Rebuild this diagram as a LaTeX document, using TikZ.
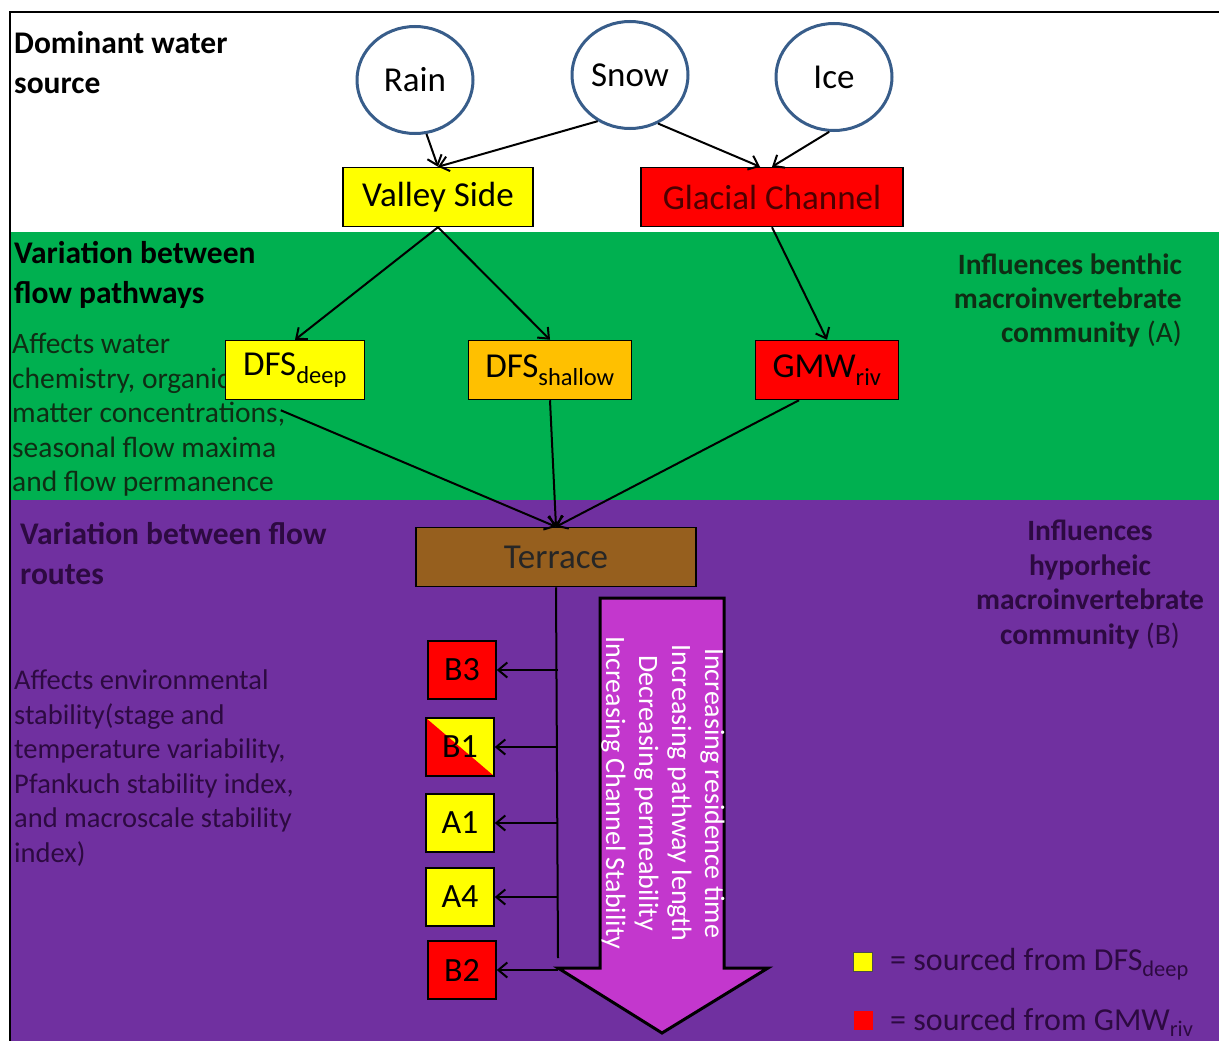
\documentclass[tikz,border=0pt]{standalone}
\usepackage{fontspec}
\setmainfont{Carlito}
\usepackage{tikz}
\usetikzlibrary{arrows.meta,shapes.geometric}

\definecolor{bandgreen}{RGB}{0,176,80}
\definecolor{bandpurple}{RGB}{112,48,160}
\definecolor{boxyellow}{RGB}{255,255,0}
\definecolor{boxorange}{RGB}{255,192,0}
\definecolor{boxred}{RGB}{255,0,0}
\definecolor{terracebrown}{RGB}{150,95,30}
\definecolor{arrowpink}{RGB}{195,55,205}
\definecolor{ringblue}{RGB}{56,93,138}
\definecolor{greentext}{RGB}{15,45,20}
\definecolor{purpletext}{RGB}{45,10,65}

\newcommand{\fsz}[2]{\fontsize{#1}{#2}\selectfont}

\begin{document}
\begin{tikzpicture}[x=1pt, y=-1pt,
  source/.style={draw=ringblue, line width=3, ellipse, minimum width=116, minimum height=107, inner sep=0, font=\fsz{35}{40}},
  unit/.style={draw, line width=1.5, inner sep=0, minimum height=59, font=\fsz{35}{40}},
  site/.style={draw, line width=1.5, inner sep=0, minimum width=68, minimum height=58, font=\fsz{34}{40}},
  flow/.style={->, line width=2, >={Straight Barb[length=9pt,width=15pt]}},
  heading/.style={anchor=north west, align=left, inner sep=0, font=\bfseries\fsz{31.5}{40}},
  note/.style={anchor=north west, align=left, inner sep=0, font=\fsz{29.5}{34.5}}]

\useasboundingbox (0,0) rectangle (1219,1041);

% background bands
\fill[white] (0,0) rectangle (1219,1041);
\fill[bandgreen] (10,232) rectangle (1219,500);
\fill[bandpurple] (10,500) rectangle (1219,1041);
\draw[line width=2] (10,1041) -- (10,12) -- (1219,12);

% side texts

\node[heading] (srchead) at (14,31) {Dominant water\\source};
\node[heading] (pathhead) at (14,241) {Variation between\\flow pathways};
\node[note, text=greentext] (pathnote) at (12,333) {Affects water\\chemistry, organic\\matter concentrations,\\seasonal flow maxima\\and flow permanence};
\node[heading, text=purpletext] (routehead) at (20,522) {Variation between flow\\routes};
\node[note, text=purpletext, font=\fsz{28.5}{34.5}] (routenote) at (14,670) {Affects environmental\\stability(stage and\\temperature variability,\\Pfankuch stability index,\\and macroscale stability\\index)};

\node[anchor=north east, align=right, inner sep=0, text=greentext, font=\bfseries\fsz{29.5}{34}] (benthic) at (1182,254) {Influences benthic\\macroinvertebrate\\community \mdseries(A)};
\node[anchor=north, align=center, inner sep=0, text=purpletext, font=\bfseries\fsz{29.5}{34.5}] (hyporheic) at (1090,520) {Influences\\hyporheic\\macroinvertebrate\\community \mdseries(B)};

% water sources

\node[source] (rain) at (415,80) {Rain};
\node[source] (snow) at (630,75) {Snow};
\node[source] (ice) at (834,77) {Ice};

% landscape units

\node[unit, fill=boxyellow, minimum width=190] (valley) at (438,197) {Valley Side};
\node[unit, fill=boxred, text=red!30!black, minimum width=262] (glacial) at (772,197) {Glacial Channel};

% flow pathways

\node[unit, fill=boxyellow, minimum width=139] (dfsdeep) at (295,370) {DFS\textsubscript{deep}};
\node[unit, fill=boxorange, minimum width=163] (dfsshallow) at (550,370) {DFS\textsubscript{shallow}};
\node[unit, fill=boxred, minimum width=143] (gmwriv) at (827,370) {GMW\textsubscript{riv}};

\node[unit, fill=terracebrown, text=black!85, minimum width=280] (terrace) at (556,557) {Terrace};

% trend arrow
\draw[line width=3, fill=arrowpink] (600,598) -- (724,598) -- (724,968) -- (768,968) -- (662,1033) -- (558,968) -- (600,968) -- cycle;
\node[rotate=-90, align=center, inner sep=0, text=white, font=\fsz{28}{33}] (trend) at (663,793) {Increasing residence time\\Increasing pathway length\\Decreasing permeability\\Increasing Channel Stability};

% flow routes

\node[site, fill=boxred] (b3) at (462,670) {B3};
\node[site, fill=boxyellow, path picture={\fill[boxred] (path picture bounding box.north west) -- (path picture bounding box.south east) -- (path picture bounding box.south west) -- cycle;}] (b1) at (460,747) {B1};
\node[site, fill=boxyellow] (a1) at (460,823) {A1};
\node[site, fill=boxyellow] (a4) at (460,897) {A4};
\node[site, fill=boxred] (b2) at (462,970) {B2};

\coordinate (trunkend) at (558,958);

% legend

\node[draw=black!70, fill=boxyellow, minimum size=19, inner sep=0] (keydeep) at (863,962) {};
\node[fill=boxred, minimum size=19, inner sep=0] (keyriv) at (863,1020) {};
\node[anchor=base west, inner sep=0, text=purpletext, font=\fsz{32}{36}] (keydeeptext) at (890,970) {= sourced from DFS\textsubscript{deep}};
\node[anchor=base west, inner sep=0, text=purpletext, font=\fsz{32}{36}] (keyrivtext) at (890,1030) {= sourced from GMW\textsubscript{riv}};

% sources to units
\draw[flow] (rain.-78) -- (valley.north);
\draw[flow] (snow.235) -- (valley.north);
\draw[flow] (snow.-60) -- ([xshift=-12]glacial.north);
\draw[flow] (ice.-95) -- (glacial.north);

% units to pathways
\draw[flow] (valley.south) -- (dfsdeep.north);
\draw[flow] (valley.south) -- (dfsshallow.north);
\draw[flow] (glacial.south) -- (gmwriv.north);

% pathways to terrace
\draw[flow] ([shift={(56,10)}]dfsdeep.south west) -- (terrace.north);
\draw[flow] (dfsshallow.south) -- (terrace.north);
\draw[flow] ([xshift=-28]gmwriv.south) -- (terrace.north);

% terrace to flow routes
\draw[line width=2] (terrace.south) -- (trunkend);
\draw[flow] (b3.east -| trunkend) -- (b3.east);
\draw[flow] (b1.east -| trunkend) -- (b1.east);
\draw[flow] (a1.east -| trunkend) -- (a1.east);
\draw[flow] (a4.east -| trunkend) -- (a4.east);
\draw[flow] (b2.east -| trunkend) -- (b2.east);

\end{tikzpicture}
\end{document}
